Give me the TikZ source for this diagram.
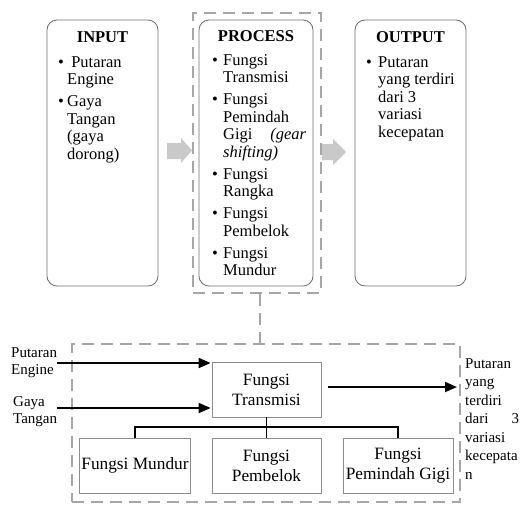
\documentclass[tikz,border=0pt]{standalone}
\usepackage{fontspec}
\setmainfont{Liberation Serif}
\usetikzlibrary{arrows.meta}
\definecolor{boxgray}{HTML}{6E6E6E}
\definecolor{sqgray}{HTML}{8C8C8C}
\definecolor{dashgray}{HTML}{A6A6A6}
\definecolor{arrowgray}{HTML}{C9C9C9}
\begin{document}
\begin{tikzpicture}[x=1pt,y=-1pt,
  rbox/.style={draw=boxgray, line width=0.8pt, rounded corners=10pt, inner sep=0pt, minimum height=266pt},
  sqbox/.style={draw=sqgray, line width=0.8pt, inner sep=2pt, align=center, minimum width=109pt, minimum height=55pt, font=\fontsize{17.3}{20}\selectfont},
  dashbox/.style={draw=dashgray, line width=2.5pt, dash pattern=on 12pt off 7pt, inner sep=0pt},
  dashline/.style={draw=dashgray, line width=2.5pt, dash pattern=on 12pt off 7pt},
  flow/.style={line width=1.8pt, -{Triangle[length=12pt,width=10pt]}},
  tree/.style={line width=1.8pt},
  toptitle/.style={font=\fontsize{16.5}{17.5}\selectfont\bfseries, anchor=base, inner sep=0pt},
  toplist/.style={font=\fontsize{16.5}{17.5}\selectfont, anchor=base west, inner sep=0pt},
  lbl/.style={font=\fontsize{15}{17}\selectfont, anchor=base west, inner sep=0pt}
]
\useasboundingbox (0,0) rectangle (521,504);

% block arrows
\fill[arrowgray] (167,143) -- (181,143) -- (181,138) -- (192,150.5) -- (181,163) -- (181,159) -- (167,159) -- cycle;
\fill[arrowgray] (322,144) -- (333,144) -- (333,139) -- (346,152) -- (333,165) -- (333,160) -- (322,160) -- cycle;

% top boxes
\node[rbox, minimum width=111pt] (inbox) at (102.5,153) {};
\node[rbox, minimum width=114pt] (procbox) at (256,153) {};
\node[rbox, minimum width=111pt] (outbox) at (410.5,153) {};
\node[dashbox, minimum width=128pt, minimum height=280pt] (procgroup) at (257,153) {};

\node[toptitle] (intitle) at (102.5,42) {INPUT};
\node[toptitle] (proctitle) at (256,41) {PROCESS};
\node[toptitle] (outtitle) at (410.5,42) {OUTPUT};

\node[toplist] (inlist) at (58,67) {\begin{tabular}[t]{@{}l@{}l@{}}
\makebox[9pt][l]{\textbullet} & \ Putaran\\ & Engine\\[4.5pt]
\makebox[9pt][l]{\textbullet} & Gaya\\ & Tangan\\ & (gaya\\ & dorong)
\end{tabular}};

\node[toplist] (proclist) at (212,65) {\begin{tabular}[t]{@{}l@{}l@{}}
\makebox[11pt][l]{\textbullet} & Fungsi\\ & Transmisi\\[4.5pt]
\makebox[11pt][l]{\textbullet} & Fungsi\\ & Pemindah\\ & \makebox[83pt][s]{Gigi \textit{(gear}}\\ & \textit{shifting)}\\[4.5pt]
\makebox[11pt][l]{\textbullet} & Fungsi\\ & Rangka\\[4.5pt]
\makebox[11pt][l]{\textbullet} & Fungsi\\ & Pembelok\\[4.5pt]
\makebox[11pt][l]{\textbullet} & Fungsi\\ & Mundur
\end{tabular}};

\node[toplist] (outlist) at (366,67) {\begin{tabular}[t]{@{}l@{}l@{}}
\makebox[12pt][l]{\textbullet} & Putaran\\ & yang terdiri\\ & dari 3\\ & variasi\\ & kecepatan
\end{tabular}};

% bottom system
\node[dashbox, minimum width=388pt, minimum height=158pt] (sysgroup) at (266,423) {};
\draw[dashline] (procgroup.south -| 260,0) -- (sysgroup.north -| 260,0);

\node[sqbox] (trans) at (266.5,389.5) {Fungsi\\Transmisi};
\node[sqbox, minimum width=110pt] (mundur) at (135,465.5) {Fungsi Mundur};
\node[sqbox] (pembelok) at (266.5,465.5) {Fungsi\\Pembelok};
\node[sqbox, minimum width=110pt] (gigi) at (398,465.5) {Fungsi\\Pemindah Gigi};

\node[lbl] (lblA) at (11,357) {\begin{tabular}[t]{@{}l@{}}Putaran\\Engine\end{tabular}};
\node[lbl] (lblB) at (13,406) {\begin{tabular}[t]{@{}l@{}}Gaya\\Tangan\end{tabular}};

\node[font=\fontsize{15}{18.5}\selectfont, anchor=base west, inner sep=0pt] (rtext) at (465,368) {\begin{tabular}[t]{@{}l@{}}Putaran\\yang\\terdiri\\\makebox[54pt][s]{dari 3}\\variasi\\kecepata\\n\end{tabular}};

\draw[flow, shorten >=1pt] (lblA.east |- 0,363) -- (trans.west |- 0,363);
\draw[flow, shorten >=1pt] (lblB.east |- 0,408) -- (trans.west |- 0,408);
\draw[flow, shorten <=7pt, shorten >=8pt] (trans.east |- 0,387) -- (rtext.west |- 0,387);

\draw[tree] (trans.south) -- (pembelok.north);
\draw[tree] (mundur.north) -- ++(0,-11) -| (gigi.north);
\end{tikzpicture}
\end{document}
